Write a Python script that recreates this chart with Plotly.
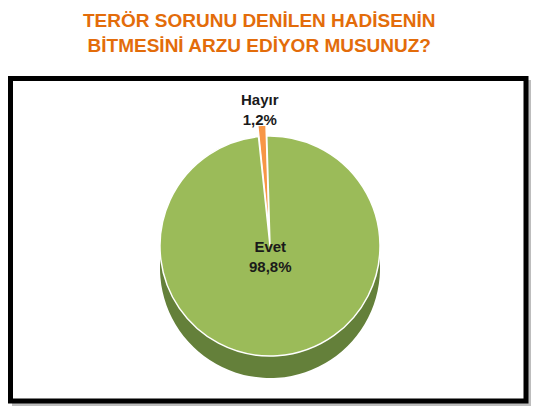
import plotly.graph_objects as go

# page body keeps its 8px default margin, so the figure is placed 8px in
FW, FH = 523, 401
OFF = 8

labels = ['Hayır', 'Evet']
values = [1.2, 98.8]

top_colors = ['#F79646', '#9BBB59']
side_colors = ['#B86A2C', '#64803A']


def px(x):
    return (x - OFF) / FW


def py(y):
    return 1 - (y - OFF) / FH


cx, cy, half = 270, 246, 121

fig = go.Figure()

# darker copy underneath, shifted down, to fake the disc edge
fig.add_trace(go.Pie(
    labels=labels, values=values, sort=False, direction='clockwise',
    rotation=-6, pull=[0.1, 0],
    marker=dict(colors=side_colors, line=dict(color='white', width=0)),
    textinfo='none', hoverinfo='skip', showlegend=False,
    domain=dict(x=[px(cx - half), px(cx + half)],
                y=[py(cy + 22 + half), py(cy + 22 - half)]),
))

fig.add_trace(go.Pie(
    labels=labels, values=values, sort=False, direction='clockwise',
    rotation=-6, pull=[0.1, 0],
    marker=dict(colors=top_colors, line=dict(color='white', width=1.5)),
    textinfo='none', showlegend=False,
    domain=dict(x=[px(cx - half), px(cx + half)],
                y=[py(cy + half), py(cy - half)]),
))


def slice_text(i):
    share = values[i] / sum(values) * 100
    return f'<b>{labels[i]}</b><br><b>{share:.1f}%</b>'.replace('.', ',')


label_font = dict(family='Liberation Sans, Arial', size=15, color='#1a1a1a')

fig.update_layout(
    width=FW, height=FH,
    margin=dict(l=0, r=0, t=0, b=0),
    paper_bgcolor='white',
    annotations=[
        dict(text='<b>TERÖR SORUNU DENİLEN HADİSENİN<br>BİTMESİNİ ARZU EDİYOR MUSUNUZ?</b>',
             xref='paper', yref='paper', x=px(259), y=py(8),
             xanchor='center', yanchor='top', showarrow=False,
             font=dict(family='Liberation Sans, Arial', size=19, color='#E36C0A')),
        dict(text=slice_text(0), xref='paper', yref='paper',
             x=px(260), y=py(110), xanchor='center', yanchor='middle',
             showarrow=False, font=label_font),
        dict(text=slice_text(1), xref='paper', yref='paper',
             x=px(270), y=py(256), xanchor='center', yanchor='middle',
             showarrow=False, font=label_font),
    ],
    shapes=[
        dict(type='rect', xref='paper', yref='paper', layer='below',
             x0=px(14), x1=px(530), y0=py(82), y1=py(404),
             line=dict(color='#BDBDBD', width=4), fillcolor='rgba(0,0,0,0)'),
        dict(type='rect', xref='paper', yref='paper', layer='below',
             x0=px(10.5), x1=px(526), y0=py(78.5), y1=py(401),
             line=dict(color='black', width=5), fillcolor='white'),
    ],
)

fig.write_html("out.html")
